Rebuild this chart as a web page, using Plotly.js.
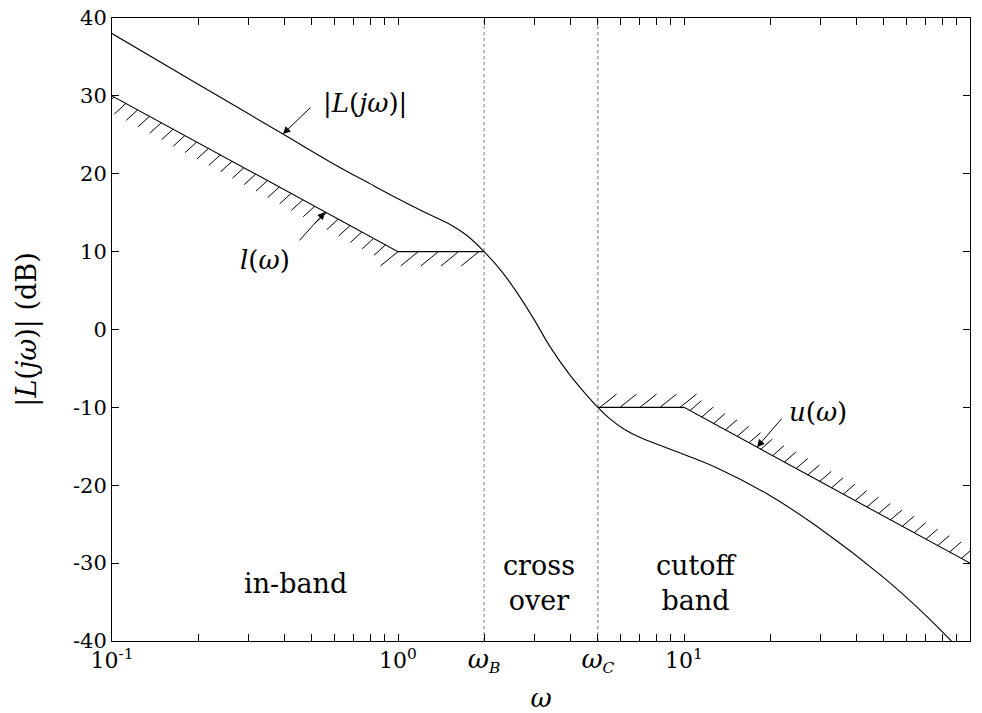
<!DOCTYPE html>
<html><head><meta charset="utf-8">
<script src="https://cdn.plot.ly/plotly-3.0.1.min.js"></script>
<style>html,body{margin:0;padding:0;background:#fff}</style>
</head><body><div id="chart" style="width:982px;height:713px"></div>
<script>
// Loop gain |L(jw)| in dB
const omegaL = [0.1, 0.2, 0.4, 0.6, 0.8, 1.0, 1.25, 1.5, 1.75, 2.0, 2.3, 2.61, 3.0, 3.4, 4.0, 4.44, 5.0, 5.5, 6.2, 7.0, 8.5, 10, 13, 19.5, 29.2, 49.7, 70, 85, 100];
const magL   = [38, 31.5, 25.0, 21.2, 18.7, 16.8, 15.0, 13.6, 12.0, 10, 7.5, 4.7, 1.2, -2.2, -5.9, -7.9, -10, -11.45, -12.85, -13.85, -15.05, -16.05, -17.75, -21.1, -25.3, -31.8, -36.7, -39.8, -42.6];
// Lower bound l(w)
const lowerW  = [0.1, 1, 2];
const lowerDb = [30, 10, 10];
// Upper bound u(w)
const upperW  = [5, 10, 100];
const upperDb = [-10, -10, -30];
// Band edges
const omegaB = 2, omegaC = 5;
// Ticks
const W_SYM = '<span style="font-size:26px"><i>ω</i></span>';
const xTickVals = [0.1, 1, 2, 5, 10, 100];
const xTickText = ['10<sup>-1</sup>', '10<sup>0</sup>', W_SYM + '<sub><i>B</i></sub>', W_SYM + '<sub><i>C</i></sub>', '10<sup>1</sup>', '10<sup>2</sup>'];
const xMinorVals = [0.2,0.3,0.4,0.5,0.6,0.7,0.8,0.9,3,4,6,7,8,9,20,30,40,50,60,70,80,90];
const yTickVals = [-40,-30,-20,-10,0,10,20,30,40];
const yTickText = ['-40','-30','-20','-10','0','10','20','30','40'];

const W = 982, H = 713;
const M = {l:112, r:12, t:18, b:72};
const PX_DEC = (W - M.l - M.r) / 3;
const PX_DB = (H - M.t - M.b) / 80;
const FONT = 'DejaVu Serif';

function interpLog(ws, ds, w) {
  const lw = Math.log10(w);
  for (let i = 0; i < ws.length - 1; i++) {
    const a = Math.log10(ws[i]), b = Math.log10(ws[i+1]);
    if (lw >= a && lw <= b) return ds[i] + (ds[i+1]-ds[i]) * (lw-a)/(b-a);
  }
  return ds[ds.length-1];
}

function hatch(ws, ds, specs) {
  const xs = [], ys = [];
  for (let i = 0; i < specs.length; i++) {
    const s = specs[i];
    const a = Math.log10(ws[i]), b = Math.log10(ws[i+1]);
    const len = (b - a) * PX_DEC;
    for (let p = s.offset; p <= len + 0.01; p += s.spacing) {
      const t = s.fromEnd ? 1 - p/len : p/len;
      const lx = a + t*(b - a), ly = ds[i] + t*(ds[i+1] - ds[i]);
      xs.push(Math.pow(10, lx), Math.pow(10, lx + s.dx/PX_DEC), null);
      ys.push(ly, ly - s.dy/PX_DB, null);
    }
  }
  return {xs, ys};
}

const hl = hatch(lowerW, lowerDb, [
  {fromEnd:true, offset:12.5, spacing:11.8, dx:-11.5, dy:10.5},
  {fromEnd:false, offset:0, spacing:20.2, dx:-17.5, dy:14.3}
]);
const hu = hatch(upperW, upperDb, [
  {fromEnd:false, offset:2, spacing:20, dx:16.7, dy:-13.3},
  {fromEnd:false, offset:6, spacing:11.8, dx:11.5, dy:-10}
]);

const blk = {color:'#000', width:1.1};
const traces = [
  {x:[omegaB, omegaB], y:[-40, 40], mode:'lines', line:{color:'#777', width:1, dash:'dot'}, hoverinfo:'skip'},
  {x:[omegaC, omegaC], y:[-40, 40], mode:'lines', line:{color:'#777', width:1, dash:'dot'}, hoverinfo:'skip'},
  {x:hl.xs, y:hl.ys, mode:'lines', line:{color:'#000', width:1}, connectgaps:false, hoverinfo:'skip'},
  {x:hu.xs, y:hu.ys, mode:'lines', line:{color:'#000', width:1}, connectgaps:false, hoverinfo:'skip'},
  {x:lowerW, y:lowerDb, mode:'lines', line:blk, name:'l(ω)'},
  {x:upperW, y:upperDb, mode:'lines', line:blk, name:'u(ω)'},
  {x:omegaL, y:magL, mode:'lines', line:{color:'#000', width:1.1, shape:'spline', smoothing:1}, name:'|L(jω)|'}
];

const tipL = 0.396, tipl = 0.556, tipu = 18.0;
const arrowBase = {showarrow:true, arrowhead:2, arrowsize:1.5, arrowwidth:1, arrowcolor:'#000', text:'', standoff:0};
const txt = (x, y, text, size) => ({x:x, y:y, xref:'x', yref:'y', text:text, showarrow:false, font:{family:FONT, size:size, color:'#000'}});

const annotations = [
  Object.assign({}, arrowBase, {x:Math.log10(tipL), y:interpLog(omegaL, magL, tipL), ax:29, ay:-28}),
  Object.assign({}, arrowBase, {x:Math.log10(tipl), y:interpLog(lowerW, lowerDb, tipl), ax:-27, ay:30}),
  Object.assign({}, arrowBase, {x:Math.log10(tipu), y:interpLog(upperW, upperDb, tipu), ax:26, ay:-30}),
  txt(-0.115, 29.1, '|<i>L</i>(<i>jω</i>)|', 26),
  txt(-0.465, 8.9, '<i>l</i>(<i>ω</i>)', 26),
  txt(1.469, -10.6, '<i>u</i>(<i>ω</i>)', 26),
  txt(-0.357, -32.6, 'in-band', 27),
  txt(0.493, -32.6, 'cross<br>over', 27),
  txt(1.045, -32.6, 'cutoff<br>band', 27)
];

const axisCommon = {
  ticks:'inside', ticklen:7, tickwidth:1, tickcolor:'#000',
  showline:true, linecolor:'#000', linewidth:1, mirror:'ticks',
  showgrid:false, zeroline:false, tickfont:{family:FONT, size:22, color:'#000'}
};

const layout = {
  width:W, height:H, margin:M,
  paper_bgcolor:'#fff', plot_bgcolor:'#fff', showlegend:false,
  font:{family:FONT, color:'#000'},
  xaxis:Object.assign({}, axisCommon, {type:'log', range:[-1, 2], tickmode:'array', tickvals:xTickVals, ticktext:xTickText,
    minor:{tickmode:'array', tickvals:xMinorVals, ticks:'inside', ticklen:7, tickwidth:1, tickcolor:'#000', showgrid:false},
    title:{text:'<i>ω</i>', font:{family:FONT, size:26, color:'#000'}, standoff:14}}),
  yaxis:Object.assign({}, axisCommon, {range:[-40, 40], tickmode:'array', tickvals:yTickVals, ticktext:yTickText,
    tickfont:{family:FONT, size:21, color:'#000'},
    title:{text:'|<i>L</i>(<i>jω</i>)| (dB)', font:{family:FONT, size:27, color:'#000'}, standoff:28}}),
  annotations:annotations
};

Plotly.newPlot('chart', traces, layout, {displayModeBar:false, staticPlot:true});
</script></body></html>
